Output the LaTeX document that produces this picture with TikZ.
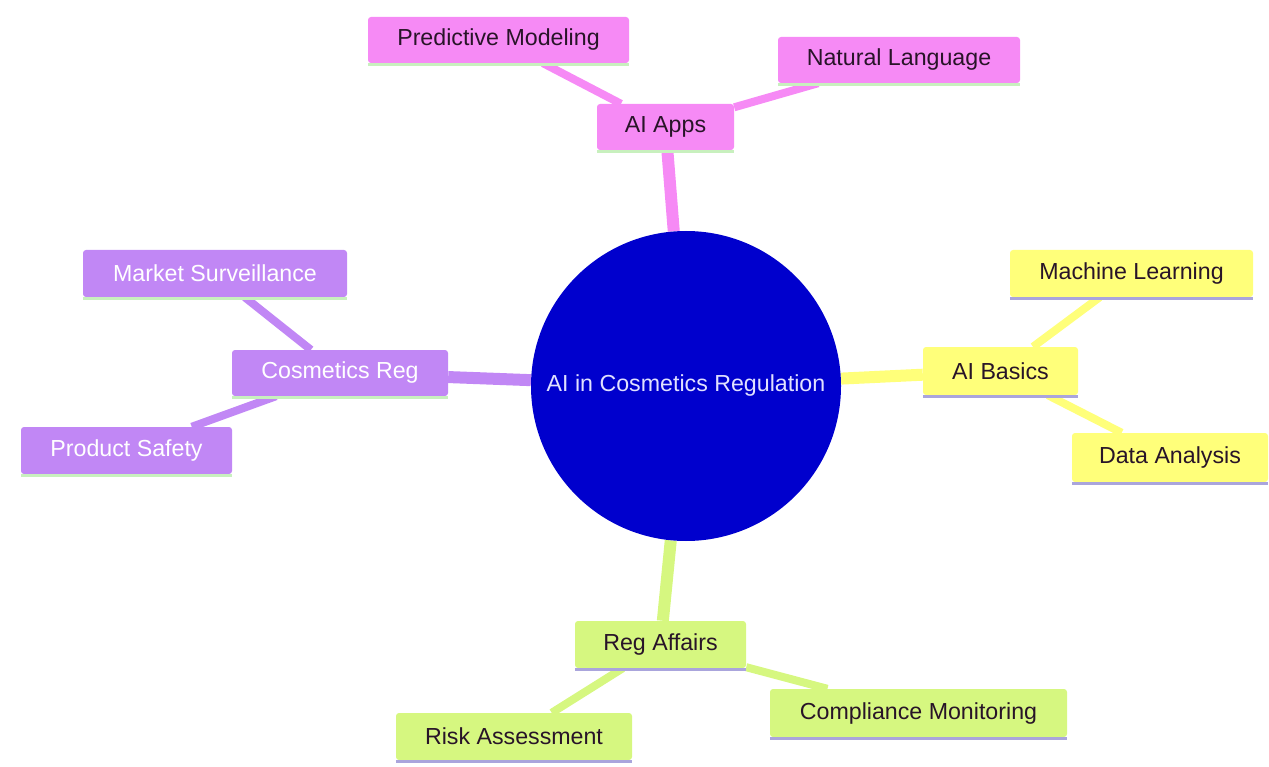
\documentclass[tikz,border=0pt]{standalone}
\usepackage{fontspec}
\setmainfont{Liberation Sans}
\usetikzlibrary{backgrounds}
\definecolor{pinkF}{RGB}{246,138,245}
\definecolor{yellowF}{RGB}{255,255,122}
\definecolor{purpleF}{RGB}{193,135,245}
\definecolor{greenF}{RGB}{214,247,128}
\definecolor{lgreenL}{RGB}{200,240,190}
\definecolor{lavL}{RGB}{170,165,220}
\definecolor{centerB}{RGB}{0,0,205}
\definecolor{darkT}{RGB}{40,20,40}
\tikzset{
  box/.style={rectangle, rounded corners=3pt, inner sep=0pt, font=\fontsize{23.2}{27}\selectfont},
  pinkbox/.style={box, fill=pinkF, text=darkT},
  yellowbox/.style={box, fill=yellowF, text=darkT},
  purplebox/.style={box, fill=purpleF, text=white},
  greenbox/.style={box, fill=greenF, text=darkT},
  ulg/.style={draw=lgreenL, line width=3.5pt},
  ull/.style={draw=lavL, line width=3.5pt},
  trunk/.style={line width=12pt},
  twig/.style={line width=8pt},
}
\begin{document}
\begin{tikzpicture}[x=1pt,y=-1pt]
\useasboundingbox (0,0) rectangle (1269,767);
% center
\node[circle, fill=centerB, minimum size=310pt, inner sep=0pt, text={rgb,255:red,225;green,225;blue,255}, font=\fontsize{23.2}{27}\selectfont] (c) at (686,386) {AI in Cosmetics Regulation};
% AI Apps
\node[pinkbox, minimum width=137pt, minimum height=46pt] (apps) at (665.5,127) {AI Apps};
\node[pinkbox, minimum width=261pt, minimum height=46pt] (pm) at (498.5,40) {Predictive Modeling};
\node[pinkbox, minimum width=242pt, minimum height=46pt] (nl) at (899,60) {Natural Language};
% AI Basics
\node[yellowbox, minimum width=155pt, minimum height=48pt] (basics) at (1000.5,371) {AI Basics};
\node[yellowbox, minimum width=243pt, minimum height=47pt] (ml) at (1131.5,273.5) {Machine Learning};
\node[yellowbox, minimum width=196pt, minimum height=49pt] (da) at (1170,457.5) {Data Analysis};
% Cosmetics Reg
\node[purplebox, minimum width=216pt, minimum height=46pt] (cr) at (340,373) {Cosmetics Reg};
\node[purplebox, minimum width=264pt, minimum height=47pt] (ms) at (215,273.5) {Market Surveillance};
\node[purplebox, minimum width=211pt, minimum height=47pt] (ps) at (126.5,450.5) {Product Safety};
% Reg Affairs
\node[greenbox, minimum width=171pt, minimum height=47pt] (ra) at (660.5,644.5) {Reg Affairs};
\node[greenbox, minimum width=236pt, minimum height=47pt] (risk) at (514,736.5) {Risk Assessment};
\node[greenbox, minimum width=297pt, minimum height=48pt] (cm) at (918.5,713) {Compliance Monitoring};
\begin{scope}[on background layer]
  \draw[trunk, pinkF] (c) -- (apps);
  \draw[twig, pinkF] (apps) -- (pm);
  \draw[twig, pinkF] (apps) -- (nl);
  \draw[trunk, yellowF] (c) -- (basics);
  \draw[twig, yellowF] (basics) -- (ml);
  \draw[twig, yellowF] (basics) -- (da);
  \draw[trunk, purpleF] (c) -- (cr);
  \draw[twig, purpleF] (cr) -- (ms);
  \draw[twig, purpleF] (cr) -- (ps);
  \draw[trunk, greenF] (c) -- (ra);
  \draw[twig, greenF] (ra) -- (risk);
  \draw[twig, greenF] (ra) -- (cm);
\end{scope}
% underlines
\foreach \n in {apps,pm,nl,cr,ms,ps}{
  \draw[ulg] ([yshift=-1.5pt]\n.south west) -- ([yshift=-1.5pt]\n.south east);
}
\foreach \n in {basics,ml,da,ra,risk,cm}{
  \draw[ull] ([yshift=-1.5pt]\n.south west) -- ([yshift=-1.5pt]\n.south east);
}
\end{tikzpicture}
\end{document}
